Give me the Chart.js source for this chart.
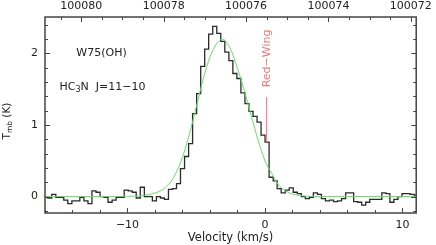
<!DOCTYPE html>
<html>
<head>
<meta charset="utf-8">
<script src="https://cdn.jsdelivr.net/npm/chart.js@4"></script>
<style>
    html, body { margin: 0; padding: 0; background: #fff; }
    canvas { display: block; }
</style>
</head>
<body>
<canvas id="spectrum" width="436" height="245"></canvas>
<script>
// W75(OH) HC3N J=11-10 spectrum

// channel centres (km/s) and main beam temperature (K)
const velocity = [
    -15.95, -15.66, -15.36, -15.07, -14.78, -14.49, -14.19, -13.90, -13.61, -13.32,
    -13.02, -12.73, -12.44, -12.14, -11.85, -11.56, -11.27, -10.97, -10.68, -10.39,
    -10.09, -9.80, -9.51, -9.22, -8.92, -8.63, -8.34, -8.04, -7.75, -7.46,
    -7.17, -6.87, -6.58, -6.29, -6.00, -5.70, -5.41, -5.12, -4.82, -4.53,
    -4.24, -3.95, -3.65, -3.36, -3.07, -2.77, -2.48, -2.19, -1.90, -1.60,
    -1.31, -1.02, -0.72, -0.43, -0.14, 0.15, 0.45, 0.74, 1.03, 1.33,
    1.62, 1.91, 2.20, 2.50, 2.79, 3.08, 3.37, 3.67, 3.96, 4.25,
    4.55, 4.84, 5.13, 5.42, 5.72, 6.01, 6.30, 6.60, 6.89, 7.18,
    7.47, 7.77, 8.06, 8.35, 8.65, 8.94, 9.23, 9.52, 9.82, 10.11,
    10.40, 10.70, 10.99
];
const tmb = [
    0.00, -0.02, 0.03, -0.01, -0.01, -0.05, -0.10, -0.06, -0.06, -0.01,
    -0.06, -0.10, 0.08, 0.06, 0.00, -0.01, -0.08, -0.05, -0.01, -0.01,
    0.09, 0.08, 0.06, -0.02, 0.13, 0.00, 0.00, -0.06, 0.00, -0.02,
    -0.04, 0.10, 0.11, 0.18, 0.39, 0.56, 0.74, 1.16, 1.44, 1.82,
    2.06, 2.27, 2.38, 2.28, 2.17, 2.02, 1.90, 1.72, 1.65, 1.45,
    1.30, 1.19, 1.12, 1.04, 0.86, 0.76, 0.27, 0.22, 0.11, 0.05,
    0.09, 0.12, 0.06, 0.04, 0.00, -0.03, -0.01, 0.05, 0.03, -0.03,
    -0.06, -0.05, -0.07, -0.06, -0.03, 0.05, 0.05, -0.07, -0.08, -0.12,
    -0.08, -0.04, -0.04, -0.04, 0.05, 0.04, -0.08, -0.04, 0.00, 0.04,
    0.04, 0.03, 0.02
];

// gaussian fit (green)
const fitVelocity = [-16, -12, -10, -9, -8, -7.5, -7, -6.5, -6, -5.5, -5, -4.5, -4, -3.5, -3.1,
    -2.5, -2, -1.5, -1, -0.5, 0, 0.5, 1, 1.5, 2, 2.5, 3, 4, 6, 11];
const fitTmb = [0, 0, 0.003, 0.012, 0.05, 0.09, 0.17, 0.32, 0.55, 0.87, 1.25, 1.64, 1.95, 2.14, 2.2,
    2.06, 1.79, 1.48, 1.13, 0.79, 0.5, 0.32, 0.16, 0.08, 0.035, 0.015, 0.005, 0, 0, 0];

// red wing marker
const redWingVelocity = [0.12, 0.12];
const redWingTmb = [0.76, 1.39];

// tick labels
const velocityTicks = [-10, 0, 10];
const tmbTicks = [0, 1, 2];
const freqTicks = [100080, 100078, 100076, 100074, 100072];

const velMin = -16, velMax = 11;
const tmbMin = -0.23, tmbMax = 2.51;
const freqAtZero = 100075.54;            // MHz at v = 0
const mhzPerKms = freqAtZero / 299792.458;

const FONT = 'DejaVu Sans';
const INK = '#222';

function toPoints(xs, ys) {
    return xs.map((x, i) => ({x: x, y: ys[i]}));
}
function minus(v) {
    return String(v).replace('-', '\u2212');
}

// frame with inward ticks + text labels
const framePlugin = {
    id: 'frame',
    afterDatasetsDraw(chart) {
        const {ctx, chartArea: a, scales} = chart;
        const xs = scales.x, x2 = scales.x2, ys = scales.y;
        ctx.save();
        ctx.strokeStyle = '#444';
        ctx.lineWidth = 1.5;
        ctx.strokeRect(a.left, a.top, a.right - a.left, a.bottom - a.top);

        ctx.lineWidth = 1;
        ctx.beginPath();
        // velocity: every 2 km/s, major every 10
        for (let v = Math.ceil(velMin / 2) * 2; v <= velMax; v += 2) {
            const px = Math.round(xs.getPixelForValue(v)) + 0.5;
            const len = v % 10 === 0 ? 5 : 3;
            ctx.moveTo(px, a.bottom);
            ctx.lineTo(px, a.bottom - len);
        }
        // frequency: every 0.5 MHz, major every 2
        for (let i = Math.ceil(x2.min * 2); i <= x2.max * 2; i++) {
            const f = i / 2;
            const px = Math.round(x2.getPixelForValue(f)) + 0.5;
            const len = i % 4 === 0 ? 5 : 3;
            ctx.moveTo(px, a.top);
            ctx.lineTo(px, a.top + len);
        }
        // temperature: every 0.2 K, major every 1
        for (let i = Math.ceil(tmbMin * 5); i <= tmbMax * 5; i++) {
            const py = Math.round(ys.getPixelForValue(i / 5)) + 0.5;
            const len = i % 5 === 0 ? 5 : 3;
            ctx.moveTo(a.left, py);
            ctx.lineTo(a.left + len, py);
            ctx.moveTo(a.right, py);
            ctx.lineTo(a.right - len, py);
        }
        ctx.stroke();

        // annotations
        ctx.fillStyle = INK;
        ctx.textBaseline = 'middle';
        ctx.textAlign = 'left';
        ctx.font = '11px "' + FONT + '"';
        ctx.fillText('W75(OH)', xs.getPixelForValue(-13.72), ys.getPixelForValue(2.0));

        let px = xs.getPixelForValue(-14.94);
        const py = ys.getPixelForValue(1.53);
        ctx.fillText('HC', px, py);
        px += ctx.measureText('HC').width;
        ctx.font = '8px "' + FONT + '"';
        ctx.fillText('3', px, py + 3);
        px += ctx.measureText('3').width;
        ctx.font = '11px "' + FONT + '"';
        ctx.fillText('N  J=11\u221210', px, py);

        // red wing label
        ctx.save();
        ctx.fillStyle = '#f07878';
        ctx.translate(xs.getPixelForValue(0.12) + 0.5, ys.getPixelForValue(1.93));
        ctx.rotate(-Math.PI / 2);
        ctx.textAlign = 'center';
        ctx.fillText('Red\u2212Wing', 0, 0);
        ctx.restore();

        // y title T_mb (K)
        ctx.save();
        ctx.translate(7, 121);
        ctx.rotate(-Math.PI / 2);
        ctx.font = '10.5px "' + FONT + '"';
        const wT = ctx.measureText('T').width;
        const wK = ctx.measureText(' (K)').width;
        ctx.font = '7.5px "' + FONT + '"';
        const wS = ctx.measureText('mb').width;
        let tx = -(wT + wS + wK) / 2;
        ctx.font = '10.5px "' + FONT + '"';
        ctx.fillText('T', tx, 0);
        tx += wT;
        ctx.font = '7.5px "' + FONT + '"';
        ctx.fillText('mb', tx, 3);
        tx += wS;
        ctx.font = '10.5px "' + FONT + '"';
        ctx.fillText(' (K)', tx, 0);
        ctx.restore();

        ctx.restore();
    }
};

const ctx = document.getElementById('spectrum').getContext('2d');

new Chart(ctx, {
    type: 'line',
    data: {
        datasets: [
            {
                label: 'fit',
                data: toPoints(fitVelocity, fitTmb),
                borderColor: '#5fe35f',
                borderWidth: 1,
                pointRadius: 0,
                cubicInterpolationMode: 'monotone',
                fill: false
            },
            {
                label: 'red wing',
                data: toPoints(redWingVelocity, redWingTmb),
                borderColor: '#f07878',
                borderWidth: 1,
                pointRadius: 0,
                fill: false
            },
            {
                label: 'HC3N',
                data: toPoints(velocity, tmb),
                borderColor: '#2a2a2a',
                borderWidth: 1.3,
                pointRadius: 0,
                stepped: 'middle',
                fill: false
            }
        ]
    },
    options: {
        responsive: false,
        animation: false,
        devicePixelRatio: 1,
        layout: {
            autoPadding: false,
            padding: {left: 0, right: 16, top: 0, bottom: 0}
        },
        plugins: {
            legend: {display: false},
            tooltip: {enabled: false}
        },
        scales: {
            x: {
                type: 'linear',
                position: 'bottom',
                min: velMin,
                max: velMax,
                afterFit: s => { s.height = 32; },
                afterBuildTicks: s => { s.ticks = velocityTicks.map(v => ({value: v})); },
                grid: {display: false, drawTicks: false},
                border: {display: false},
                ticks: {
                    padding: 6,
                    maxRotation: 0,
                    autoSkip: false,
                    color: INK,
                    font: {family: FONT, size: 11},
                    callback: v => minus(v)
                },
                title: {
                    display: true,
                    text: 'Velocity (km/s)',
                    color: INK,
                    font: {family: FONT, size: 11.5},
                    padding: {top: 0, bottom: 0}
                }
            },
            x2: {
                type: 'linear',
                position: 'top',
                reverse: true,
                min: freqAtZero - velMax * mhzPerKms,
                max: freqAtZero - velMin * mhzPerKms,
                afterFit: s => { s.height = 17; },
                afterBuildTicks: s => { s.ticks = freqTicks.map(f => ({value: f})); },
                grid: {display: false, drawTicks: false},
                border: {display: false},
                ticks: {
                    padding: 4,
                    maxRotation: 0,
                    autoSkip: false,
                    color: INK,
                    font: {family: FONT, size: 11},
                    callback: v => String(v)
                }
            },
            y: {
                type: 'linear',
                min: tmbMin,
                max: tmbMax,
                afterFit: s => { s.width = 45; },
                afterBuildTicks: s => { s.ticks = tmbTicks.map(t => ({value: t})); },
                grid: {display: false, drawTicks: false},
                border: {display: false},
                ticks: {
                    padding: 7,
                    color: INK,
                    font: {family: FONT, size: 11},
                    callback: v => String(v)
                }
            }
        }
    },
    plugins: [framePlugin]
});
</script>
</body>
</html>
